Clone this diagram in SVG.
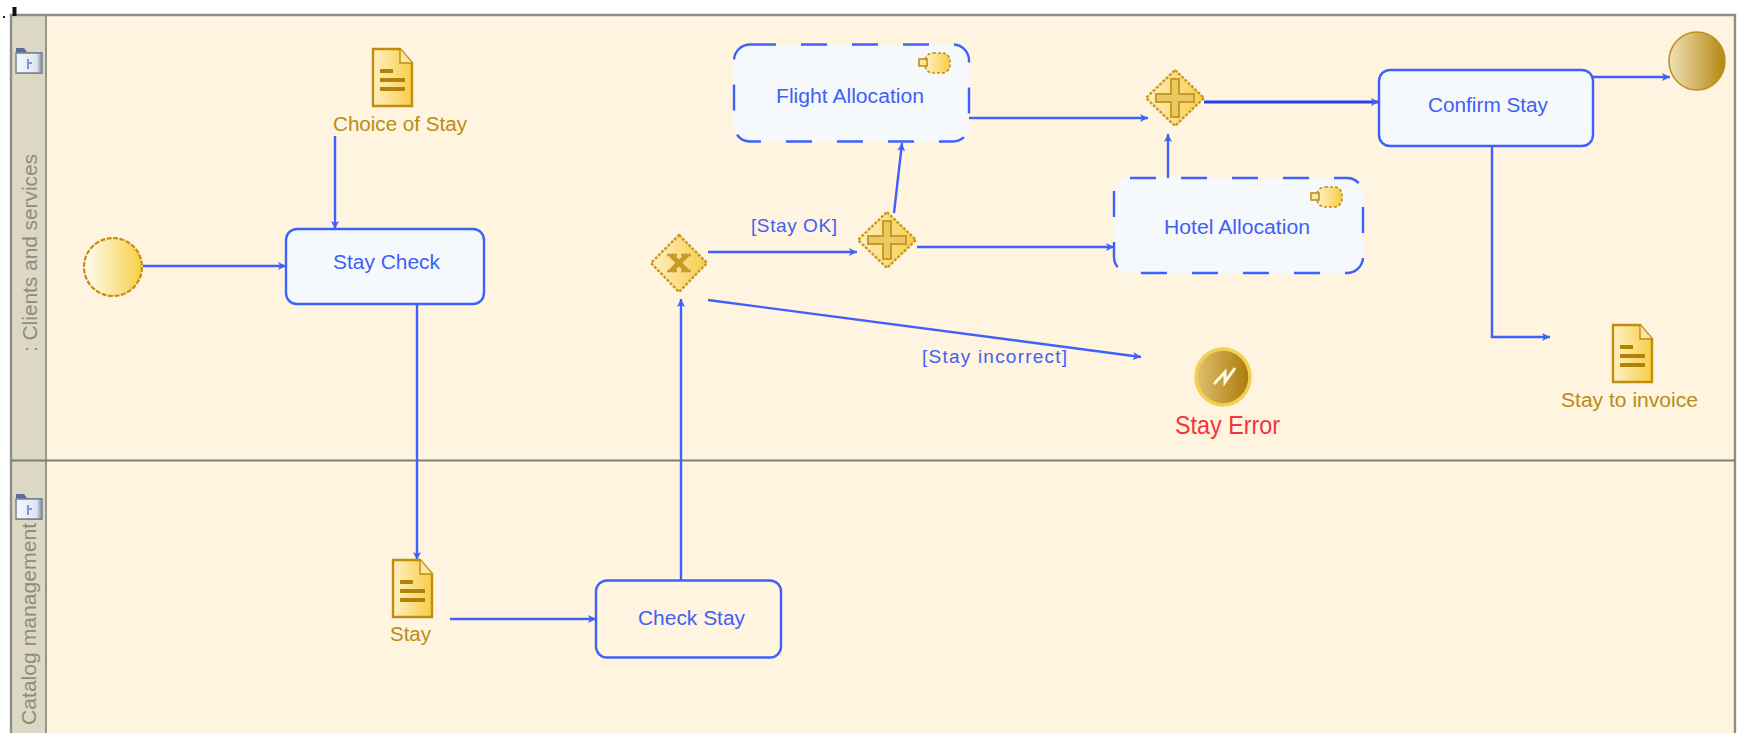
<svg xmlns="http://www.w3.org/2000/svg" width="1748" height="733" viewBox="0 0 1748 733">
<style>
text{font-family:"Liberation Sans",Arial,sans-serif}
.t{fill:#3f60f5;font-size:20px}
.g{fill:#b98c14;font-size:20px}
.l{fill:#3f60f5;font-size:19px}
.s{fill:#8f8c7c;font-size:20px}
.task{fill:#f5f9fb;stroke:#3f60fb;stroke-width:2.4}
.sub{stroke-dasharray:26 25}
.c{fill:none;stroke:#3f60fb;stroke-width:2.4;marker-end:url(#a)}
.gw{fill:url(#gold);stroke:#c9981f;stroke-width:2.4;stroke-dasharray:3 1.5}
.pl{fill:#edc75f;stroke:#c99a2a;stroke-width:2}
.dl{fill:#b08208}
.doc{fill:url(#gold);stroke:#c08d10;stroke-width:2.4}
.fold{fill:url(#fb);stroke:#7d8a99;stroke-width:1.6}
</style>
<defs>
<linearGradient id="gold"><stop offset="0" stop-color="#fff0c4"/><stop offset="1" stop-color="#f7cd48"/></linearGradient>
<linearGradient id="st"><stop offset="0" stop-color="#fffdf4"/><stop offset="1" stop-color="#f7cf45"/></linearGradient>
<linearGradient id="en"><stop offset="0" stop-color="#efe2b8"/><stop offset="1" stop-color="#b5860f"/></linearGradient>
<linearGradient id="er"><stop offset="0" stop-color="#e0c070"/><stop offset="1" stop-color="#a97a06"/></linearGradient>
<linearGradient id="fb"><stop offset="0" stop-color="#f4f6fb"/><stop offset="0.8" stop-color="#dfe5f0"/><stop offset="1" stop-color="#7f8a98"/></linearGradient>
<marker id="a" markerUnits="userSpaceOnUse" markerWidth="10" markerHeight="10" refX="9" refY="5" orient="auto"><path d="M1 1L9 5L1 9L3 5Z" fill="#3f60fb"/></marker>
<g id="docIcon"><path class="doc" d="M0 0H27L39 14V57H0Z"/><path d="M27 0V14H39" fill="#fbe6a4" stroke="#c08d10" stroke-width="1.4"/><rect class="dl" x="7" y="20" width="13" height="4"/><rect class="dl" x="7" y="29" width="25" height="4"/><rect class="dl" x="7" y="38" width="25" height="4"/></g>
<g id="plus"><path class="gw" d="M0 -28L29 0L0 28L-29 0Z"/><path class="pl" d="M-19 -4H-4V-19H4V-4H19V4H4V19H-4V4H-19Z"/></g>
<g id="comp"><rect x="6" y="0" width="25" height="20" rx="8" fill="url(#gold)" stroke="#c48f14" stroke-width="1.6" stroke-dasharray="3 2"/><rect x="0" y="6" width="8" height="7" fill="#f8e6a8" stroke="#c48f14" stroke-width="1.6"/></g>
<g id="folder"><path d="M1 0H9L12 4H27V26H1Z" fill="#56709a"/><rect class="fold" x="1" y="5" width="26" height="20"/><path d="M13 11V21M13 15H17" stroke="#7e93e8" stroke-width="2"/></g>
</defs>

<rect width="1748" height="733" fill="#fff"/>
<g id="pool">
<rect x="46" y="15" width="1689" height="718" fill="#fff4df"/>
<rect x="11" y="15" width="35" height="718" fill="#dcd8c4"/>
<path d="M11 733V15H1735V733" fill="none" stroke="#8f8d86" stroke-width="2.400"/>
<path d="M46 15V733" stroke="#97948a" stroke-width="2"/>
<path d="M11 460.500H1735" stroke="#7f7d75" stroke-width="2.200"/>
<rect x="12.500" y="7" width="4" height="9" fill="#111"/><rect x="3" y="16" width="2" height="2" fill="#222"/>
</g>
<g id="lane-clients">
<use href="#folder" x="15" y="48"/>
<text class="s" transform="translate(37 352) rotate(-90)" textLength="198" lengthAdjust="spacingAndGlyphs">: Clients and services</text>
</g>
<g id="lane-catalog">
<use href="#folder" x="15" y="494"/>
<text class="s" transform="translate(36 725) rotate(-90)" textLength="202" lengthAdjust="spacingAndGlyphs">Catalog management</text>
</g>

<g id="connectors">
<path class="c" d="M143 266H286"/>
<path class="c" d="M335 136V229"/>
<path class="c" d="M417 304V560"/>
<path class="c" d="M450 619H596"/>
<path class="c" d="M681 580V299"/>
<path class="c" d="M708 252H857"/>
<path class="c" d="M708 300L1141 357"/>
<path class="c" d="M894 213L902 143"/>
<path class="c" d="M917 247H1114"/>
<path class="c" d="M969 118H1148"/>
<path class="c" d="M1168 178V134"/>
<path class="c" d="M1204 102H1379" style="stroke:#2242f0;stroke-width:2.8"/>
<path class="c" d="M1593 77H1670"/>
<path class="c" d="M1492 146V337H1550"/>
</g>

<g id="start"><circle cx="113" cy="267" r="29" fill="url(#st)" stroke="#c48f14" stroke-width="2.2" stroke-dasharray="5 1.5"/></g>
<g id="end"><ellipse cx="1697" cy="61" rx="28" ry="29" fill="url(#en)" stroke="#bd9320" stroke-width="1.6"/></g>

<g id="choice-of-stay"><use href="#docIcon" x="373" y="49"/><text class="g" x="333" y="131" textLength="134" lengthAdjust="spacingAndGlyphs">Choice of Stay</text></g>
<g id="stay-check"><rect class="task" x="286" y="229" width="198" height="75" rx="11"/><text class="t" x="333" y="269" textLength="107" lengthAdjust="spacingAndGlyphs">Stay Check</text></g>
<g id="flight-allocation"><rect class="task sub" x="734" y="44.500" width="235" height="97" rx="16"/><use href="#comp" x="919" y="53"/><text class="t" x="776" y="103" textLength="148" lengthAdjust="spacingAndGlyphs">Flight Allocation</text></g>
<g id="hotel-allocation"><rect class="task sub" x="1114" y="178" width="249" height="95" rx="16"/><use href="#comp" x="1311" y="187"/><text class="t" x="1164" y="234" textLength="146" lengthAdjust="spacingAndGlyphs">Hotel Allocation</text></g>
<g id="confirm-stay"><rect class="task" x="1379" y="70" width="214" height="76" rx="11"/><text class="t" x="1428" y="112" textLength="120" lengthAdjust="spacingAndGlyphs">Confirm Stay</text></g>
<g id="check-stay"><rect class="task" style="fill:#fff4df" x="596" y="580.500" width="185" height="77" rx="11"/><text class="t" x="638" y="625" textLength="107" lengthAdjust="spacingAndGlyphs">Check Stay</text></g>
<g id="stay"><use href="#docIcon" x="393" y="560"/><text class="g" x="390" y="641" textLength="41" lengthAdjust="spacingAndGlyphs">Stay</text></g>
<g id="stay-to-invoice"><use href="#docIcon" x="1613" y="325"/><text class="g" x="1561" y="407" textLength="137" lengthAdjust="spacingAndGlyphs">Stay to invoice</text></g>

<g id="xor"><path class="gw" d="M679 235L707 263L679 292L651 263Z"/><path d="M671 255L687 271M687 255L671 271" stroke="#c99a2a" stroke-width="5" fill="none"/><path d="M667 255H677M681 255H691M667 271H677M681 271H691" stroke="#c99a2a" stroke-width="2.500" fill="none"/></g>
<g id="split"><use href="#plus" x="887" y="240"/></g>
<g id="join"><use href="#plus" x="1175" y="98"/></g>

<g id="stay-error"><ellipse cx="1223" cy="377" rx="27" ry="28" fill="url(#er)" stroke="#f3d055" stroke-width="3.500"/><path d="M1214 384L1225 372V382L1235 368" fill="none" stroke="#fff8e0" stroke-width="3"/><text x="1175" y="434" fill="#f4343c" font-size="25" textLength="105" lengthAdjust="spacingAndGlyphs">Stay Error</text></g>

<g id="labels">
<text class="l" x="751" y="232" textLength="86" lengthAdjust="spacing">[Stay OK]</text>
<text class="l" x="922" y="363" textLength="145" lengthAdjust="spacing">[Stay incorrect]</text>
</g>
</svg>
